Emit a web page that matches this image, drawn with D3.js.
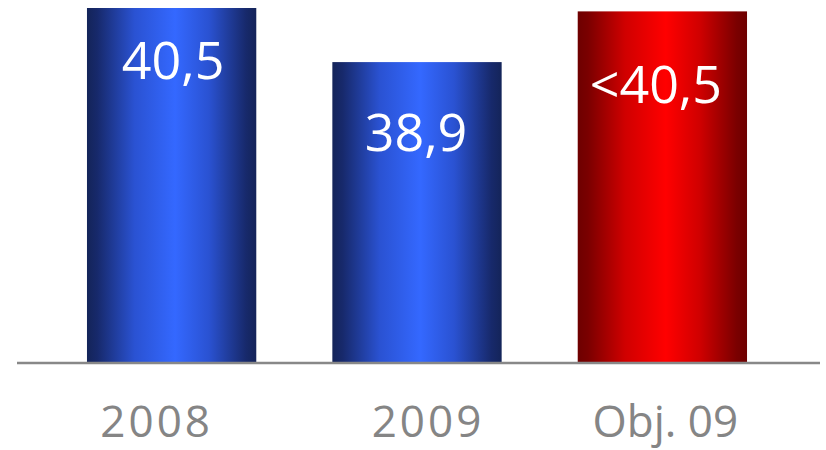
<!DOCTYPE html>
<html>
<head>
<meta charset="utf-8">
<script src="https://cdn.jsdelivr.net/npm/d3@7/dist/d3.min.js"></script>
<style>
  html, body { margin: 0; padding: 0; background: #fff; }
  svg { display: block; }
</style>
</head>
<body>
<svg id="chart" width="826" height="450"></svg>
<script>
// Data
const categories = ["2008", "2009", "Obj. 09"];
const values = [40.5, 38.9, 40.4];
const valueLabels = ["40,5", "38,9", "<40,5"];
const barKinds = ["actual", "actual", "target"];

// Layout
const baseY = 363;
const topY = 8;
const labelDy = [71, 89, 92];     // value-label baseline below the bar top
const labelDx = [1.5, -1, -6.5];
const tickDx = [-15, 11, 3];

const svg = d3.select("#chart");
const defs = svg.append("defs");

// Horizontal shading that makes each bar read as a cylinder
function cylinder(id, stops) {
  const g = defs.append("linearGradient")
    .attr("id", id).attr("x1", "0%").attr("x2", "100%").attr("y1", "0%").attr("y2", "0%");
  stops.forEach(([o, c]) => g.append("stop").attr("offset", o).attr("stop-color", c));
}
cylinder("grad-actual", [
  ["0%", "#142459"], ["6%", "#17296b"], ["28%", "#2a52d2"],
  ["52%", "#3468ff"], ["72%", "#2a52d2"], ["94%", "#17296b"], ["100%", "#142459"]
]);
cylinder("grad-target", [
  ["0%", "#6e0000"], ["6%", "#7a0000"], ["28%", "#d00000"],
  ["52%", "#ff0000"], ["72%", "#d00000"], ["94%", "#7a0000"], ["100%", "#6e0000"]
]);

const x = d3.scaleBand()
  .domain(categories)
  .range([6, 828])
  .paddingInner(0.31)
  .paddingOuter(0.33);

const y = d3.scaleLinear()
  .domain([30, 40.5])
  .range([baseY, topY]);

const rows = categories.map((c, i) => ({ c, v: values[i], label: valueLabels[i], kind: barKinds[i], i }));

// Bars
svg.append("g").selectAll("rect")
  .data(rows)
  .join("rect")
  .attr("x", d => x(d.c))
  .attr("width", x.bandwidth())
  .attr("y", d => y(d.v))
  .attr("height", d => baseY - y(d.v))
  .attr("fill", d => `url(#grad-${d.kind})`);

// Value labels
svg.append("g").selectAll("text")
  .data(rows)
  .join("text")
  .attr("x", d => x(d.c) + x.bandwidth() / 2 + labelDx[d.i])
  .attr("y", d => y(d.v) + labelDy[d.i])
  .attr("text-anchor", "middle")
  .attr("fill", "#ffffff")
  .style("font-family", "'Open Sans', sans-serif")
  .style("font-size", "52px")
  .text(d => d.label);

// Category axis
const axis = d3.axisBottom(x).tickSize(0).tickPadding(0);
const gAxis = svg.append("g")
  .attr("transform", `translate(0,${baseY})`)
  .call(axis);
gAxis.select(".domain").remove();
gAxis.append("line")
  .attr("x1", 17).attr("x2", 820)
  .attr("y1", 0).attr("y2", 0)
  .attr("stroke", "#888888")
  .attr("stroke-width", 2.5);
gAxis.selectAll(".tick text")
  .attr("dy", 0)
  .attr("y", 74)
  .attr("x", (d, i) => tickDx[i])
  .attr("fill", "#858585")
  .style("font-family", "'Open Sans', sans-serif")
  .style("font-size", "44px")
  .style("letter-spacing", d => /^\d+$/.test(d) ? "3px" : "0px");
</script>
</body>
</html>
